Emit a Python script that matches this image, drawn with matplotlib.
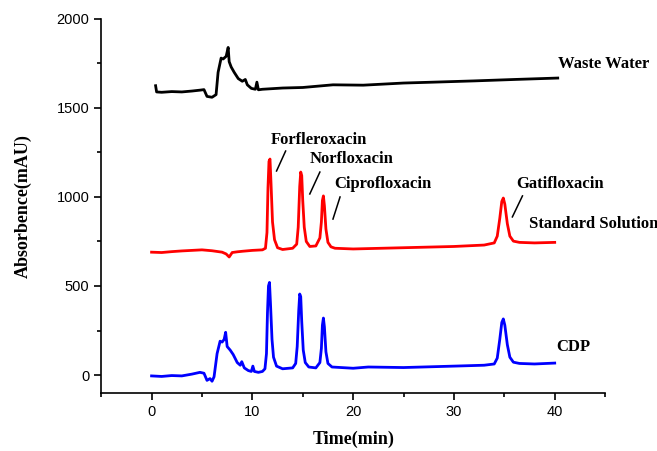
import matplotlib
matplotlib.use("Agg")
import matplotlib.pyplot as plt
from matplotlib.ticker import MultipleLocator

# chromatogram traces (time in min, absorbance in mAU)
waste_t = [0.4, 0.5, 1, 2, 3, 4, 4.8, 5.2, 5.5, 6.0, 6.4, 6.6, 6.9, 7.1, 7.4, 7.6, 7.7,
           7.9, 8.2, 8.6, 9.0, 9.3, 9.5, 9.9, 10.3, 10.45, 10.6, 11, 13, 15, 18, 21,
           25, 28, 32, 36, 40.3]
waste_v = [1625, 1590, 1588, 1592, 1590, 1595, 1600, 1603, 1565, 1560, 1575, 1700, 1780,
           1775, 1790, 1840, 1760, 1730, 1700, 1665, 1650, 1660, 1630, 1610, 1605, 1645,
           1602, 1605, 1612, 1615, 1630, 1628, 1640, 1645, 1652, 1660, 1668]

std_t = [0, 1, 2, 3, 4, 5, 6, 7, 7.4, 7.7, 8.0, 8.5, 9, 10, 11, 11.3, 11.45, 11.55,
         11.65, 11.75, 11.85, 12.0, 12.2, 12.5, 13, 14, 14.4, 14.55, 14.7, 14.8, 14.9,
         15.0, 15.15, 15.35, 15.7, 16.3, 16.7, 16.85, 16.95, 17.05, 17.15, 17.3, 17.5,
         17.8, 18.2, 20, 25, 30, 33, 34, 34.3, 34.55, 34.75, 34.9, 35.05, 35.3, 35.55,
         35.9, 36.5, 38, 40]
std_v = [690, 688, 693, 697, 700, 703, 698, 690, 680, 663, 688, 692, 695, 700, 703, 712,
         800, 1050, 1200, 1213, 1080, 860, 760, 715, 705, 712, 735, 830, 1060, 1140,
         1120, 980, 830, 750, 722, 725, 770, 860, 980, 1006, 950, 820, 745, 720, 712,
         708, 715, 722, 730, 742, 780, 880, 975, 994, 960, 850, 780, 752, 745, 742, 745]

cdp_t = [0, 1, 2, 3, 4, 4.8, 5.2, 5.5, 5.8, 6.0, 6.2, 6.5, 6.8, 7.0, 7.2, 7.35, 7.5, 7.8,
         8.1, 8.5, 8.8, 8.95, 9.2, 9.6, 9.9, 10.05, 10.2, 10.6, 11.0, 11.25, 11.4, 11.5,
         11.6, 11.7, 11.8, 11.95, 12.1, 12.4, 13, 14, 14.3, 14.45, 14.6, 14.7, 14.8,
         14.9, 15.05, 15.25, 15.6, 16.3, 16.7, 16.85, 16.95, 17.05, 17.15, 17.3, 17.5,
         17.9, 20, 21.5, 25, 30, 33, 34, 34.3, 34.55, 34.75, 34.9, 35.05, 35.3, 35.55,
         35.9, 36.5, 38, 40]
cdp_v = [-5, -8, -3, -5, 5, 15, 10, -30, -20, -35, -10, 120, 190, 185, 200, 240, 160, 140,
         115, 70, 55, 75, 40, 25, 20, 50, 20, 15, 20, 35, 120, 350, 500, 520, 400, 200,
         100, 50, 35, 40, 65, 160, 360, 455, 440, 300, 140, 70, 45, 40, 70, 150, 280, 320,
         270, 130, 65, 45, 38, 45, 42, 50, 55, 62, 95, 200, 295, 315, 280, 170, 100, 72,
         65, 62, 67]

serif = "Liberation Serif"
sans = "Liberation Sans"

fig = plt.figure(figsize=(6.57, 4.51), dpi=100)
ax = fig.add_axes([0.154, 0.129, 0.767, 0.829])

ax.plot(waste_t, waste_v, color="black", lw=2)
ax.plot(std_t, std_v, color="#ff0000", lw=2)
ax.plot(cdp_t, cdp_v, color="#0000ff", lw=2)

ax.set_xlim(-5, 45)
ax.set_ylim(-100, 2000)
ax.set_xticks([0, 10, 20, 30, 40])
ax.set_xticks([-5, 5, 15, 25, 35, 45], minor=True)
ax.yaxis.set_major_locator(MultipleLocator(500))
ax.yaxis.set_minor_locator(MultipleLocator(250))
ax.tick_params(which="major", direction="out", length=5, width=1.2, labelsize=10.5)
ax.tick_params(which="minor", direction="out", length=3, width=1.2)
for lab in ax.get_xticklabels() + ax.get_yticklabels():
    lab.set_fontfamily(sans)
for s in ["top", "right"]:
    ax.spines[s].set_visible(False)
for s in ["left", "bottom"]:
    ax.spines[s].set_linewidth(1.2)

ax.set_xlabel("Time(min)", fontfamily=serif, fontweight="bold", fontsize=13, labelpad=9)
ax.set_ylabel("Absorbence(mAU)", fontfamily=serif, fontweight="bold", fontsize=13, labelpad=18)

# peak names with leader lines
peaks = [
    ("Forfleroxacin", (11.8, 1320), (13.3, 1258), (12.4, 1146)),
    ("Norfloxacin", (15.7, 1213), (16.7, 1140), (15.7, 1017)),
    ("Ciprofloxacin", (18.1, 1073), (18.7, 1000), (18.0, 876)),
    ("Gatifloxacin", (36.2, 1073), (36.8, 1006), (35.8, 888)),
]
for name, pos, p1, p2 in peaks:
    ax.text(pos[0], pos[1], name, fontfamily=serif, fontweight="bold", fontsize=12,
            va="center", ha="left")
    ax.plot([p1[0], p2[0]], [p1[1], p2[1]], color="black", lw=1.1)

ax.text(40.3, 1747, "Waste Water", fontfamily=serif, fontweight="bold", fontsize=12,
        va="center", ha="left", clip_on=False)
ax.text(37.4, 848, "Standard Solution", fontfamily=serif, fontweight="bold", fontsize=12,
        va="center", ha="left", clip_on=False)
ax.text(40.2, 157, "CDP", fontfamily=serif, fontweight="bold", fontsize=12,
        va="center", ha="left", clip_on=False)

fig.savefig("out.png", dpi=100)
